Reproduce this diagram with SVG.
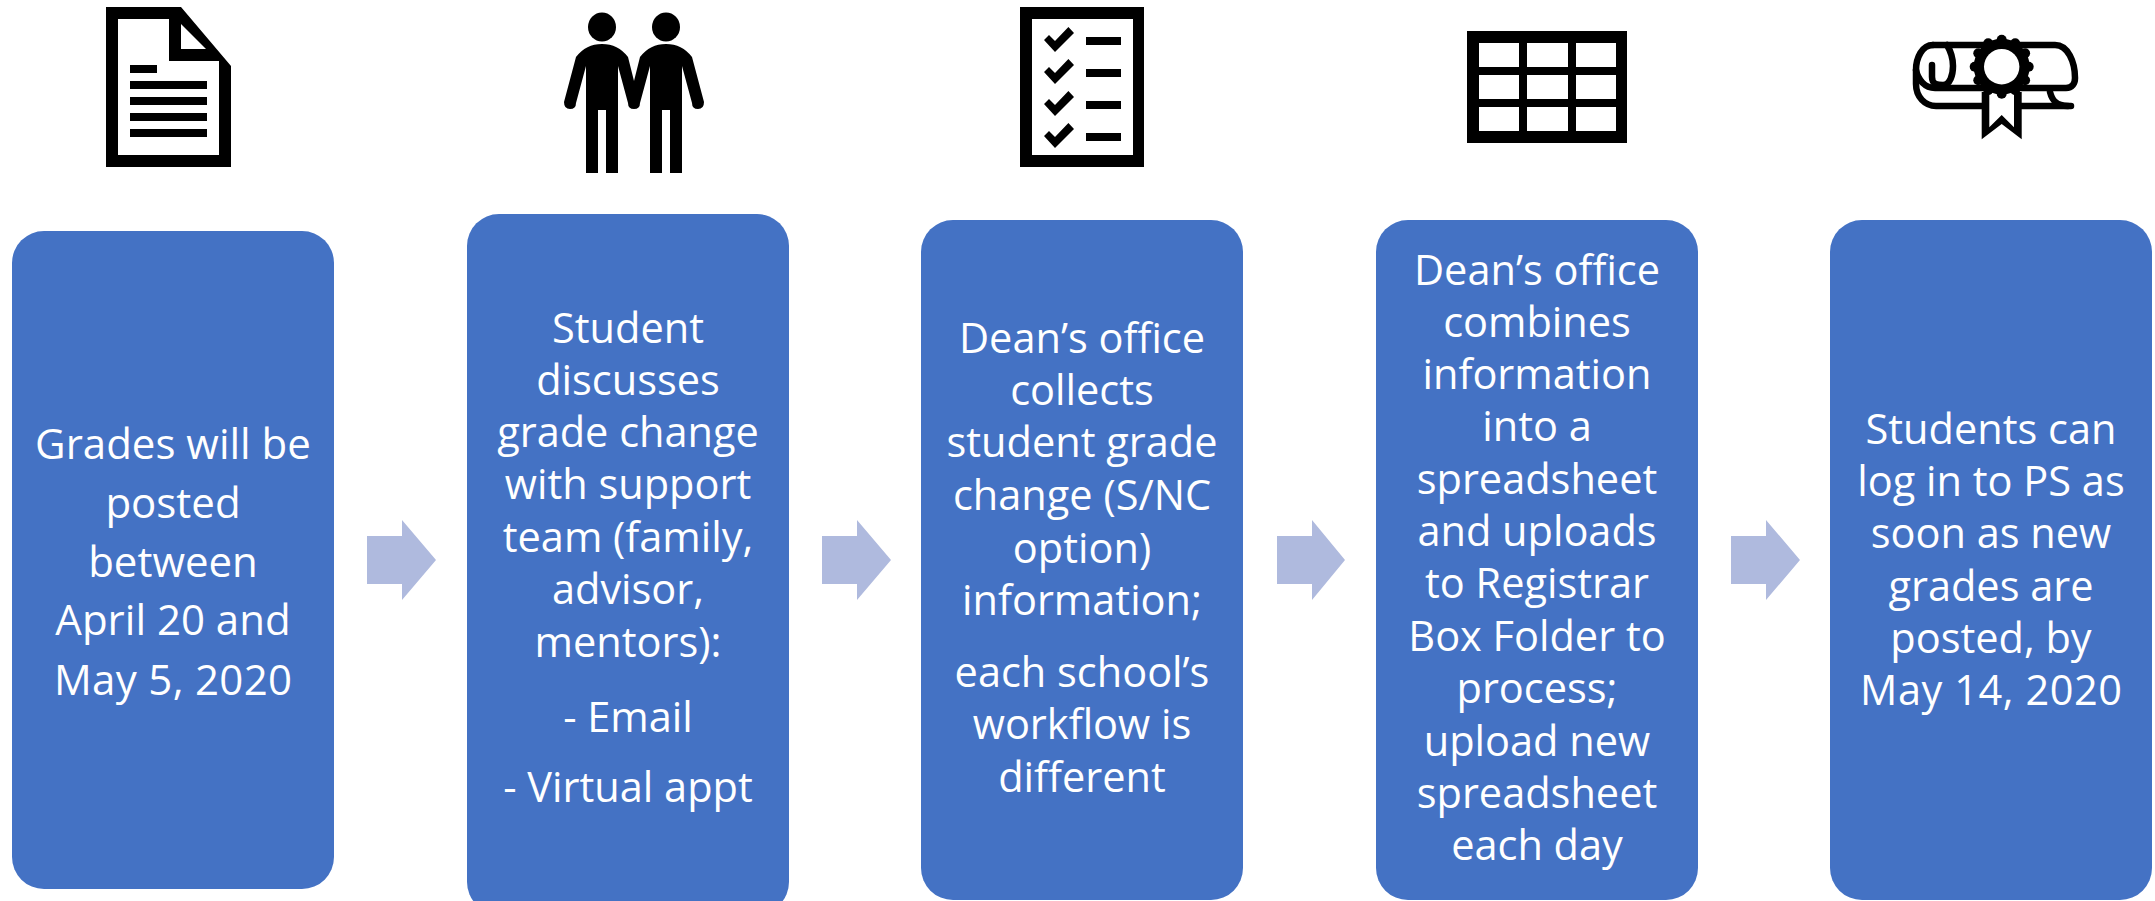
<svg xmlns="http://www.w3.org/2000/svg" width="2155" height="901" viewBox="0 0 2155 901">
<style>
.box{fill:#4472c4}
.arrow{fill:#afbade}
text{font-family:"Open Sans","Noto Sans","Liberation Sans",sans-serif;font-size:41.500px;fill:#fff;text-anchor:middle}
#node1 text{font-size:42px}
.k{fill:#000}
.w{fill:#fff}
.ln{fill:none;stroke:#000;stroke-width:6.500;stroke-linecap:round;stroke-linejoin:round}
</style>
<rect width="2155" height="901" fill="#fff"/>
<g id="icon-document">
<path class="k" fill-rule="evenodd" d="M106 7H181L231 66V167H106ZM118 19V155H219V61H169V19ZM181 24V49H206Z"/>
<path class="k" d="M130 65h27v8h-27zM130 81h77v8h-77zM130 97h77v8h-77zM130 113h77v8h-77zM130 129h77v8h-77z"/>
</g>
<g id="icon-people">
<ellipse class="k" cx="602" cy="27" rx="14" ry="14.500"/>
<ellipse class="k" cx="666" cy="27" rx="14" ry="14.500"/>
<path class="k" d="M576 57Q586 44 602 44Q618 44 628 57L634 81L640 57Q650 44 666 44Q682 44 692 57L704 102Q704 109 698 109Q692 109 692 103L682 66V173H670V110H662V173H650V66L640 103Q640 109 634 109Q628 109 628 103L618 66V173H606V110H598V173H586V66L576 103Q576 109 570 109Q564 109 564 102Z"/>
</g>
<g id="icon-checklist">
<path class="k" fill-rule="evenodd" d="M1020 7H1144V167H1020ZM1032 19V155H1133V19Z"/>
<path class="k" d="M1044 40L1055 52L1074 33L1068.400 27L1055 41L1049 35Z"/>
<path class="k" d="M1044 72L1055 84L1074 65L1068.400 59L1055 73L1049 67Z"/>
<path class="k" d="M1044 104L1055 116L1074 97L1068.400 91L1055 105L1049 99Z"/>
<path class="k" d="M1044 136L1055 148L1074 129L1068.400 123L1055 137L1049 131Z"/>
<path class="k" d="M1086 37h35v8h-35zM1086 69h35v8h-35zM1086 101h35v8h-35zM1086 133h35v8h-35z"/>
</g>
<g id="icon-table">
<path class="k" fill-rule="evenodd" d="M1467 31H1627V143H1467ZM1479 43V67H1519V43ZM1527 43V67H1568V43ZM1576 43V67H1616V43ZM1479 75V99H1519V75ZM1527 75V99H1568V75ZM1576 75V99H1616V75ZM1479 107V131H1519V107ZM1527 107V131H1568V107ZM1576 107V131H1616V107Z"/>
</g>
<g id="icon-diploma">
<path class="ln" d="M1933 45H2055C2068 45 2075 62 2075 78C2075 84 2072 88 2066 88H1935C1925 88 1918 80 1916 70"/>
<path class="ln" d="M1933 45C1922 45 1916 58 1916 70V84C1916 97 1925 106 1936 106H2071"/>
<path class="ln" d="M1932 65V77C1932 85 1938 85 1943 85C1950 85 1953 75 1953 66C1953 58 1950 50 1947 45"/>
<path class="ln" d="M2050 92C2052 100 2056 106 2068 106"/>
<path class="k" d="M1981.700 92V139.300L2001.700 124L2021.700 139.300V92Z"/>
<path class="w" d="M1989.300 92H2014V127.300L2001.700 115L1989.300 127.300Z"/>
<circle class="k" cx="2001.700" cy="66.700" r="28"/>
<g class="k">
<circle cx="2001.700" cy="39.700" r="5"/><circle cx="2015.200" cy="43.300" r="5"/><circle cx="2025.100" cy="53.200" r="5"/><circle cx="2028.700" cy="66.700" r="5"/><circle cx="2025.100" cy="80.200" r="5"/><circle cx="2015.200" cy="90.100" r="5"/><circle cx="2001.700" cy="93.700" r="5"/><circle cx="1988.200" cy="90.100" r="5"/><circle cx="1978.300" cy="80.200" r="5"/><circle cx="1974.700" cy="66.700" r="5"/><circle cx="1978.300" cy="53.200" r="5"/><circle cx="1988.200" cy="43.300" r="5"/>
</g>
<circle class="w" cx="2001.700" cy="66.700" r="17.700"/>
</g>
<g id="connectors">
<path id="a1" class="arrow" d="M367 536H402V520L436 560L402 600V584H367Z"/>
<path id="a2" class="arrow" d="M822 536H857V520L891 560L857 600V584H822Z"/>
<path id="a3" class="arrow" d="M1277 536H1312V520L1345 560L1312 600V584H1277Z"/>
<path id="a4" class="arrow" d="M1731 536H1766V520L1800 560L1766 600V584H1731Z"/>
</g>
<g id="node1">
<rect class="box" x="12" y="231" width="322" height="658" rx="32"/>
<text x="173" y="459">Grades will be</text><text x="173" y="518">posted</text><text x="173" y="577">between</text><text x="173" y="635">April 20 and</text><text x="173" y="695" textLength="238">May 5, 2020</text>
</g>
<g id="node2">
<rect class="box" x="467" y="214" width="322" height="700" rx="32"/>
<text x="628" y="343">Student</text><text x="628" y="395">discusses</text><text x="628" y="447">grade change</text><text x="628" y="499">with support</text><text x="628" y="552">team (family,</text><text x="628" y="604">advisor,</text><text x="628" y="657">mentors):</text><text x="628" y="732">- Email</text><text x="628" y="802">- Virtual appt</text>
</g>
<g id="node3">
<rect class="box" x="921" y="220" width="322" height="680" rx="32"/>
<text x="1082" y="353">Dean’s office</text><text x="1082" y="405">collects</text><text x="1082" y="457">student grade</text><text x="1082" y="510">change (S/NC</text><text x="1082" y="563">option)</text><text x="1082" y="615">information;</text><text x="1082" y="687">each school’s</text><text x="1082" y="739">workflow is</text><text x="1082" y="792">different</text>
</g>
<g id="node4">
<rect class="box" x="1376" y="220" width="322" height="680" rx="32"/>
<text x="1537" y="285">Dean’s office</text><text x="1537" y="337">combines</text><text x="1537" y="389">information</text><text x="1537" y="441">into a</text><text x="1537" y="494">spreadsheet</text><text x="1537" y="546">and uploads</text><text x="1537" y="598">to Registrar</text><text x="1537" y="651">Box Folder to</text><text x="1537" y="703">process;</text><text x="1537" y="756">upload new</text><text x="1537" y="808">spreadsheet</text><text x="1537" y="860">each day</text>
</g>
<g id="node5">
<rect class="box" x="1830" y="220" width="322" height="680" rx="32"/>
<text x="1991" y="444">Students can</text><text x="1991" y="496">log in to PS as</text><text x="1991" y="548">soon as new</text><text x="1991" y="601">grades are</text><text x="1991" y="653">posted, by</text><text x="1991" y="705" textLength="262">May 14, 2020</text>
</g>
</svg>
